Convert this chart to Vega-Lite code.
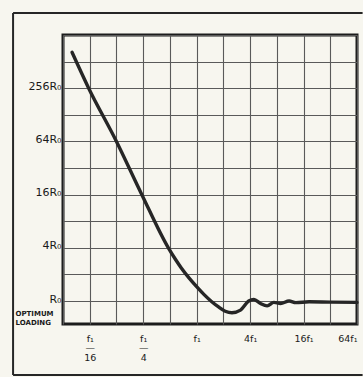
{
  "$schema": "https://vega.github.io/schema/vega-lite/v6.json",
  "width": 294,
  "height": 289,
  "padding": {"left": 12, "top": 11, "right": 0, "bottom": 0},
  "background": "#f7f6ef",
  "config": {
    "view": {"stroke": "#1c1c1c", "strokeWidth": 3},
    "font": "DejaVu Sans",
    "axis": {"gridColor": "#5a5a5a", "gridWidth": 1.1, "gridOpacity": 1, "labelColor": "#1a1a1a", "labelBound": false, "labelOverlap": false}
  },
  "data": {"values": [
    {"f": 0.0395, "r": 652},
    {"f": 0.0608, "r": 256},
    {"f": 0.125, "r": 64},
    {"f": 0.2415, "r": 16},
    {"f": 0.48, "r": 4},
    {"f": 0.574, "r": 2.99},
    {"f": 0.675, "r": 2.35},
    {"f": 0.824, "r": 1.815},
    {"f": 1.0, "r": 1.454},
    {"f": 1.214, "r": 1.181},
    {"f": 1.48, "r": 0.983},
    {"f": 1.765, "r": 0.859},
    {"f": 2.1, "r": 0.768},
    {"f": 2.5, "r": 0.737},
    {"f": 3.12, "r": 0.79},
    {"f": 3.86, "r": 1.0},
    {"f": 4.41, "r": 1.043},
    {"f": 5.24, "r": 0.939},
    {"f": 6.23, "r": 0.883},
    {"f": 7.41, "r": 0.966},
    {"f": 8.82, "r": 0.939},
    {"f": 11.0, "r": 1.0},
    {"f": 13.1, "r": 0.959},
    {"f": 18.5, "r": 0.983},
    {"f": 32, "r": 0.973},
    {"f": 64, "r": 0.966}
  ]},
  "layer": [
    {
      "data": {"values": [{}]},
      "mark": {"type": "rule", "color": "#262626", "strokeWidth": 2},
      "encoding": {
        "x": {"datum": 0.00856, "type": "quantitative", "scale": {"type": "log", "domain": [0.03125, 64]}, "axis": null},
        "y": {"datum": 0.1455, "type": "quantitative", "scale": {"type": "log", "domain": [0.55, 1024]},
          "axis": {"orient": "left", "values": [1], "labelExpr": "['OPTIMUM','LOADING']", "labelAlign": "left", "labelBaseline": "top", "labelPadding": 48, "labelOffset": 8, "labelFontSize": 7, "labelFontWeight": "bold", "labelLineHeight": 9, "ticks": false, "domain": false, "grid": false, "title": null}},
        "y2": {"datum": 1817}
      }
    },
    {
      "data": {"values": [{}]},
      "mark": {"type": "rule", "color": "#262626", "strokeWidth": 2},
      "encoding": {
        "x": {"datum": 0.00856, "type": "quantitative", "scale": {"type": "log", "domain": [0.03125, 64]}, "axis": null},
        "x2": {"datum": 74},
        "y": {"datum": 1817, "type": "quantitative", "scale": {"type": "log", "domain": [0.55, 1024]}, "axis": null}
      }
    },
    {
      "data": {"values": [{}]},
      "mark": {"type": "rule", "color": "#262626", "strokeWidth": 2},
      "encoding": {
        "x": {"datum": 0.00856, "type": "quantitative", "scale": {"type": "log", "domain": [0.03125, 64]}, "axis": null},
        "x2": {"datum": 74},
        "y": {"datum": 0.1455, "type": "quantitative", "scale": {"type": "log", "domain": [0.55, 1024]}, "axis": null}
      }
    },
    {
      "mark": {"type": "line", "color": "#262626", "strokeWidth": 3.4, "interpolate": "monotone", "strokeCap": "round"},
      "encoding": {
        "x": {"field": "f", "type": "quantitative", "scale": {"type": "log", "domain": [0.03125, 64]},
          "axis": {"orient": "bottom", "values": [0.03125, 0.0625, 0.125, 0.25, 0.5, 1, 2, 4, 8, 16, 32, 64],
            "labelExpr": "datum.value == 0.0625 ? ['f₁','—','16'] : datum.value == 0.25 ? ['f₁','—','4'] : datum.value == 1 ? 'f₁' : datum.value == 4 ? '4f₁' : datum.value == 16 ? '16f₁' : datum.value == 64 ? '64f₁' : ''",
            "labelBaseline": "top", "labelPadding": 9, "labelLineHeight": 9.5, "labelFontSize": 9.5, "labelFlush": true, "ticks": false, "domain": false, "grid": true, "title": null}},
        "y": {"field": "r", "type": "quantitative", "scale": {"type": "log", "domain": [0.55, 1024]},
          "axis": {"orient": "left", "values": [1, 2, 4, 8, 16, 32, 64, 128, 256, 512, 1024],
            "labelExpr": "datum.value == 1 ? 'R₀' : datum.value == 4 ? '4R₀' : datum.value == 16 ? '16R₀' : datum.value == 64 ? '64R₀' : datum.value == 256 ? '256R₀' : ''",
            "labelFontSize": 11, "labelPadding": 2, "labelOffset": -2, "ticks": false, "domain": false, "grid": true, "title": null}}
      }
    }
  ],
  "resolve": {"axis": {"x": "independent", "y": "independent"}}
}
